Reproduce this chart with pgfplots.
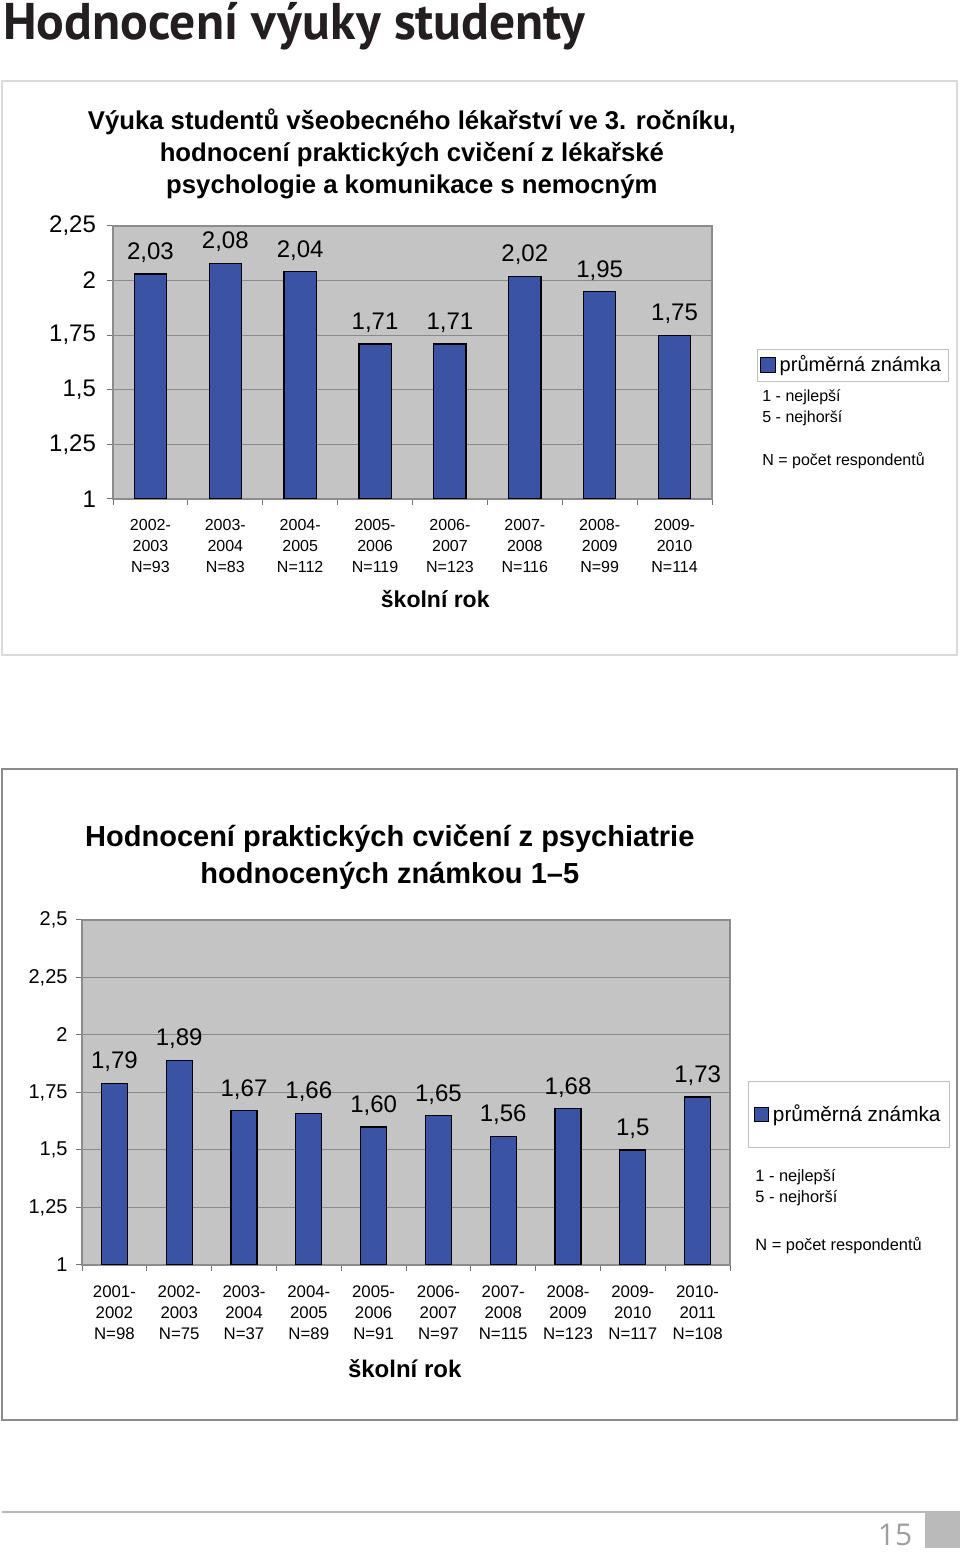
\documentclass[border=0pt]{standalone}
\usepackage{fontspec}
\setmainfont{Liberation Sans}
\newfontfamily\headfont{PT Sans}
\newfontfamily\pagefont{Open Sans}
\usepackage{pgfplots}
\pgfplotsset{compat=1.18}
\usepackage{pgfplotstable}
\definecolor{barblue}{HTML}{3A53A4}
\definecolor{plotgray}{HTML}{C4C4C4}
\definecolor{gridgray}{HTML}{8A8A8A}
\definecolor{framegray}{HTML}{DADADA}
\definecolor{frametwo}{HTML}{8C8C8C}
\definecolor{headcol}{HTML}{231F20}

\pgfplotstableread{
x y lab
0 2.03 2,03
1 2.08 2,08
2 2.04 2,04
3 1.71 1,71
4 1.71 1,71
5 2.02 2,02
6 1.95 1,95
7 1.75 1,75
}\dataA

\pgfplotstableread{
x y lab
0 1.79 1,79
1 1.89 1,89
2 1.67 1,67
3 1.66 1,66
4 1.60 1,60
5 1.65 1,65
6 1.56 1,56
7 1.68 1,68
8 1.50 1,5
9 1.73 1,73
}\dataB

\pgfplotsset{
  mybars/.style={
    scale only axis, anchor=south west,
    axis background/.style={fill=plotgray},
    ybar, bar shift=0pt,
    ymajorgrids, grid style={draw=gridgray, line width=0.5pt},
    axis line style={draw=frametwo, line width=0.9pt},
    tick style={draw=black!55, line width=0.5pt},
    tick align=outside, tick pos=left,
    major tick length=3pt,
    xticklabels={},
    extra x tick style={major tick length=0pt},
    /pgf/number format/assume math mode=true,
    /pgf/number format/use comma,
    point meta=explicit symbolic,
    nodes near coords,
    every node near coord/.append style={font=\fontsize{12}{14}\selectfont, text=black, anchor=south, yshift=2pt},
    legend image code/.code={\draw[fill=barblue, draw=black, line width=0.5pt] (0pt,-3.6pt) rectangle (7.2pt,3.6pt);},
  }
}

\begin{document}
\begin{tikzpicture}
% page area
\path (0pt,0pt) rectangle (480pt,776pt);
% header
\node[anchor=base west, inner sep=0pt, text=headcol, font=\headfont\bfseries\fontsize{25.8}{30}\selectfont] at (1.5pt,756pt) {Hodnocení výuky studenty};
% frames
\draw[framegray, line width=0.8pt] (1pt,448.5pt) rectangle (478.5pt,735.5pt);
\draw[frametwo, line width=0.8pt] (1pt,66pt) rectangle (478.5pt,391.5pt);

% ---------- chart 1 ----------
\begin{axis}[mybars,
  at={(56.5pt,526.5pt)}, width=299.5pt, height=136.5pt,
  xmin=-0.5, xmax=7.5, ymin=1, ymax=2.25,
  bar width=0.43,
  xtick={-0.5,0.5,...,7.5},
  extra x ticks={0,1,2,3,4,5,6,7},
  extra x tick labels={{2002-\\2003\\N=93},{2003-\\2004\\N=83},{2004-\\2005\\N=112},{2005-\\2006\\N=119},{2006-\\2007\\N=123},{2007-\\2008\\N=116},{2008-\\2009\\N=99},{2009-\\2010\\N=114}},
  xticklabel style={align=center, font=\fontsize{8}{10.5}\selectfont, yshift=-6.4pt},
  ytick={1,1.25,1.5,1.75,2,2.25},
  yticklabel style={font=\fontsize{12}{14}\selectfont, xshift=-2pt},
  title={Výuka studentů všeobecného lékařství ve 3. ročníku,\\hodnocení praktických cvičení z lékařské\\psychologie a komunikace s nemocným},
  title style={align=center, at={(axis description cs:0.499,1.219)}, anchor=center, font=\bfseries\fontsize{12.85}{16}\selectfont},
  xlabel={školní rok},
  xlabel style={at={(axis description cs:0.538,-0.366)}, anchor=center, font=\bfseries\fontsize{11.5}{14}\selectfont},
  legend style={at={(axis description cs:1.075,0.491)}, anchor=west, draw=black!25, font=\fontsize{10}{12}\selectfont, inner xsep=1.5pt, inner ysep=1.2pt},
]
\addplot[fill=barblue, draw=black, line width=0.6pt] table[x=x, y=y, meta=lab] {\dataA};
\addlegendentry{průměrná známka}
\end{axis}
\node[anchor=west, inner sep=0pt, font=\fontsize{8}{10}\selectfont] at (381pt,577.5pt) {1 - nejlepší};
\node[anchor=west, inner sep=0pt, font=\fontsize{8}{10}\selectfont] at (381pt,567pt) {5 - nejhorší};
\node[anchor=west, inner sep=0pt, font=\fontsize{8}{10}\selectfont] at (381pt,545.5pt) {N = počet respondentů};

% ---------- chart 2 ----------
\begin{axis}[mybars,
  at={(41pt,143.5pt)}, width=324pt, height=172.5pt,
  xmin=-0.5, xmax=9.5, ymin=1, ymax=2.5,
  bar width=0.40,
  xtick={-0.5,0.5,...,9.5},
  extra x ticks={0,1,2,3,4,5,6,7,8,9},
  extra x tick labels={{2001-\\2002\\N=98},{2002-\\2003\\N=75},{2003-\\2004\\N=37},{2004-\\2005\\N=89},{2005-\\2006\\N=91},{2006-\\2007\\N=97},{2007-\\2008\\N=115},{2008-\\2009\\N=123},{2009-\\2010\\N=117},{2010-\\2011\\N=108}},
  xticklabel style={align=center, font=\fontsize{8.4}{10.5}\selectfont, yshift=-6.7pt},
  ytick={1,1.25,1.5,1.75,2,2.25,2.5},
  yticklabel style={font=\fontsize{10}{12}\selectfont, xshift=-0.7pt},
  title={Hodnocení praktických cvičení z psychiatrie\\hodnocených známkou 1–5},
  title style={align=center, at={(axis description cs:0.475,1.147)}, anchor=center, font=\bfseries\fontsize{14.5}{18.5}\selectfont},
  xlabel={školní rok},
  xlabel style={at={(axis description cs:0.498,-0.301)}, anchor=center, font=\bfseries\fontsize{12}{14}\selectfont},
  legend style={at={(axis description cs:1.028,0.436)}, anchor=west, draw=black!25, font=\fontsize{10.4}{12}\selectfont, inner xsep=2.5pt, inner ysep=9.5pt},
]
\addplot[fill=barblue, draw=black, line width=0.6pt] table[x=x, y=y, meta=lab] {\dataB};
\addlegendentry{průměrná známka}
\end{axis}
\node[anchor=west, inner sep=0pt, font=\fontsize{8.2}{10}\selectfont] at (377.5pt,187.5pt) {1 - nejlepší};
\node[anchor=west, inner sep=0pt, font=\fontsize{8.2}{10}\selectfont] at (377.5pt,177pt) {5 - nejhorší};
\node[anchor=west, inner sep=0pt, font=\fontsize{8.2}{10}\selectfont] at (377.5pt,153pt) {N = počet respondentů};

% footer
\draw[black!28, line width=1.3pt] (1pt,20pt) -- (462.5pt,20pt);
\fill[black!27] (462.5pt,2pt) rectangle (480pt,20.6pt);
\node[anchor=center, inner sep=0pt, text=black!38, font=\pagefont\fontsize{15}{17}\selectfont] at (447.5pt,8.5pt) {15};
\end{tikzpicture}
\end{document}
